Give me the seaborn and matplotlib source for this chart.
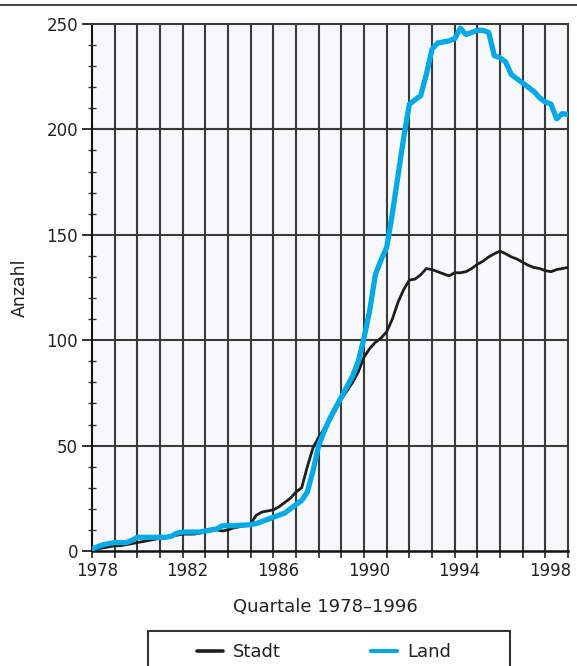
import numpy as np
import pandas as pd
import matplotlib
matplotlib.use("Agg")
import matplotlib.pyplot as plt
import matplotlib.transforms as mtransforms
from matplotlib.ticker import MultipleLocator, FixedLocator
from matplotlib.lines import Line2D
from matplotlib.patches import Rectangle
import seaborn as sns

# quarterly positions, 1978 Q1 .. 1999 Q1
quarters = np.arange(1978, 1999.01, 0.25)

# Stadt (black line), four values per year
stadt = [
    0.5, 1, 1.5, 2,          # 1978
    2.5, 2.5, 3, 3.5,        # 1979
    4, 4.5, 5, 5.5,          # 1980
    6, 6.5, 7, 7.5,          # 1981
    8, 8, 8, 8.5,            # 1982
    9, 9.5, 10, 9.5,         # 1983
    10, 11, 11.5, 12,        # 1984
    13, 17, 18.5, 19,        # 1985
    19.5, 21, 23, 25,        # 1986
    28, 30, 40, 49,          # 1987
    54, 58, 62, 67,          # 1988
    72, 76, 80, 85,          # 1989
    92, 96, 99, 101,         # 1990
    104, 110, 118, 124,      # 1991
    128.5, 129, 131, 134,    # 1992
    133.5, 132.5, 131.5, 130.5,  # 1993
    132, 132, 132.5, 134,    # 1994
    136, 137.5, 139.5, 141,  # 1995
    142.3, 141, 139.5, 138.5,  # 1996
    137, 135.5, 134.5, 134,  # 1997
    133, 132.5, 133.5, 134,  # 1998
    134.5,                   # 1999
]

# Land (blue line)
land = [
    1, 2, 3, 3.5,            # 1978
    4, 4, 4, 5,              # 1979
    6.5, 6.5, 6.5, 6.5,      # 1980
    6.5, 6.5, 7, 8.5,        # 1981
    9, 9, 9, 9,              # 1982
    9.5, 10, 10.5, 12,       # 1983
    12, 12, 12.2, 12.3,      # 1984
    12.5, 13, 14, 15,        # 1985
    16, 17, 18, 20,          # 1986
    22, 24, 28, 38,          # 1987
    50, 57, 63, 68,          # 1988
    73, 78, 83, 90,          # 1989
    101, 114, 131, 138,      # 1990
    144, 160, 178, 196,      # 1991
    212, 214, 216, 226,      # 1992
    238, 241, 241.5, 242,    # 1993
    243, 248, 245, 246,      # 1994
    247, 247, 246, 235,      # 1995
    234, 232, 226, 224,      # 1996
    222, 220, 218, 215,      # 1997
    213, 212, 205, 207.5,    # 1998
    207,                     # 1999
]

year_ticks = [1978, 1982, 1986, 1990, 1994, 1998]
y_ticks = [0, 50, 100, 150, 200, 250]

sns.set_theme(style="white")
plt.rcParams["font.family"] = ["DejaVu Sans"]

W, H = 577, 666
fig = plt.figure(figsize=(W / 100, H / 100), dpi=100)
fig.patch.set_facecolor("white")
ax = fig.add_axes([92 / W, 1 - 551 / H, 476 / W, 527 / H])
ax.set_facecolor("#f6f8fa")

grid_col = "#3a3a3a"
ax.set_xlim(1978, 1999)
ax.set_ylim(0, 250)

# grid: every year vertically, every 50 horizontally
for yr in range(1979, 1999):
    ax.axvline(yr, color=grid_col, lw=1.5, zorder=1)
for v in [50, 100, 150, 200]:
    ax.axhline(v, color=grid_col, lw=1.5, zorder=1)

sns.lineplot(x=quarters, y=stadt, ax=ax, color="#1e1e1e", lw=2.0,
             label="Stadt", zorder=3, legend=False)
sns.lineplot(x=quarters, y=land, ax=ax, color="#05a9e6", lw=3.8,
             label="Land", zorder=4, legend=False)

for s in ax.spines.values():
    s.set_visible(True)
    s.set_color(grid_col)
    s.set_linewidth(1.5)
ax.spines["left"].set_color("#111111")
ax.spines["bottom"].set_color("#111111")
ax.spines["bottom"].set_linewidth(1.8)

ax.yaxis.set_major_locator(FixedLocator(y_ticks))
ax.yaxis.set_minor_locator(MultipleLocator(10))
ax.xaxis.set_major_locator(FixedLocator(year_ticks))
ax.xaxis.set_minor_locator(MultipleLocator(1))
ax.set_xticklabels([str(y) for y in year_ticks])
ax.set_yticklabels([str(v) for v in y_ticks])

ax.tick_params(axis="y", which="major", direction="out", length=7, width=1.3,
               color="#222222", labelsize=12, labelcolor="#222222", pad=3, left=True)
ax.tick_params(axis="y", which="minor", direction="inout", length=6, width=1.0,
               color="#333333", left=True)
ax.tick_params(axis="x", which="both", direction="out", length=5, width=1.2,
               color="#222222", labelsize=12, labelcolor="#222222", pad=3, bottom=True)

# tick labels sit a little right of their ticks
offset = mtransforms.ScaledTranslation(5 / 100, 0, fig.dpi_scale_trans)
for lab in ax.get_xticklabels():
    lab.set_transform(lab.get_transform() + offset)

ax.set_xlabel("Quartale 1978\u20131996", fontsize=13, color="#222222", va="center")
ax.xaxis.set_label_coords(0.49, -(607 - 551) / 527)
ax.set_ylabel("Anzahl", fontsize=12.5, color="#222222", va="center")
ax.yaxis.set_label_coords(-(92 - 20) / 476, 0.5)

# legend (box runs off the bottom edge like the source)
handles, labels = ax.get_legend_handles_labels()
handles = [Line2D([], [], color="#1e1e1e", lw=2.6),
           Line2D([], [], color="#05a9e6", lw=3.0)]
fig.legend(handles, labels, loc="center left",
           bbox_to_anchor=(197 / W, 1 - 652 / H), ncol=2, frameon=False,
           fontsize=13, handlelength=1.45, handletextpad=0.55,
           columnspacing=5.0, borderpad=0, borderaxespad=0,
           labelcolor="#222222")
fig.add_artist(Rectangle((148 / W, -0.05), (510 - 148) / W, (1 - 631 / H) + 0.05,
                         transform=fig.transFigure, fill=False,
                         ec="#333333", lw=1.5))

# rule across the top of the page
fig.add_artist(Line2D([0, 1], [1 - 5 / H, 1 - 5 / H], transform=fig.transFigure,
                      color="#333333", lw=1.3))

fig.savefig("out.png", dpi=100)
